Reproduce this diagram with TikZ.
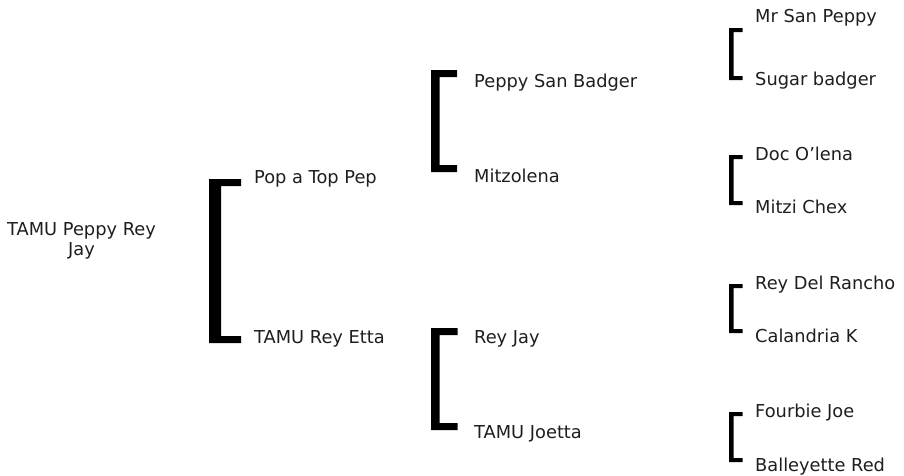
\documentclass[tikz,border=0pt]{standalone}
\usepackage{fontspec}
\setmainfont{DejaVu Sans}
\definecolor{txt}{RGB}{30,30,30}
\newcommand\pedbracket[6]{% x0 x1 xe y0 y3 th
  \fill[black] (#3,#4) -- (#1,#4) -- (#1,#5) -- (#3,#5) -- (#3,#5-#6) -- (#2,#5-#6) -- (#2,#4+#6) -- (#3,#4+#6) -- cycle;}
\begin{document}
\begin{tikzpicture}[x=1pt,y=-1pt,
  horsefont/.style={inner sep=0pt,text=txt,font=\fontsize{17.8}{20}\selectfont},
  horse/.style={horsefont,anchor=base west}]
\useasboundingbox (0,0) rectangle (904,475);
% root
\node[horsefont,align=center,anchor=north] (root) at (81.5,222) {TAMU Peppy Rey\\Jay};
% generation 1
\node[horse] (s) at (254,183) {Pop a Top Pep};
\node[horse] (d) at (254,343) {TAMU Rey Etta};
% generation 2
\node[horse] (ss) at (474,87) {Peppy San Badger};
\node[horse] (sd) at (474,182) {Mitzolena};
\node[horse] (ds) at (474,343) {Rey Jay};
\node[horse] (dd) at (474,438) {TAMU Joetta};
% generation 3
\node[horse] (sss) at (755,22) {Mr San Peppy};
\node[horse] (ssd) at (755,85) {Sugar badger};
\node[horse] (sds) at (755,160) {Doc O’lena};
\node[horse] (sdd) at (755,213) {Mitzi Chex};
\node[horse] (dss) at (755,289) {Rey Del Rancho};
\node[horse] (dsd) at (755,342) {Calandria K};
\node[horse] (dds) at (755,417) {Fourbie Joe};
\node[horse] (ddd) at (755,471) {Balleyette Red};
% brackets
\pedbracket{209}{221}{241}{179}{343}{7}
\pedbracket{431}{439.5}{457}{70}{172}{7}
\pedbracket{431}{439.5}{457.5}{328}{430}{7}
\pedbracket{729}{733.5}{742.5}{28}{80}{4}
\pedbracket{729}{733.5}{742.5}{155}{205}{4}
\pedbracket{729}{733.5}{742.5}{284}{333}{4}
\pedbracket{729}{733.5}{742.5}{412}{462}{4}
\end{tikzpicture}
\end{document}
